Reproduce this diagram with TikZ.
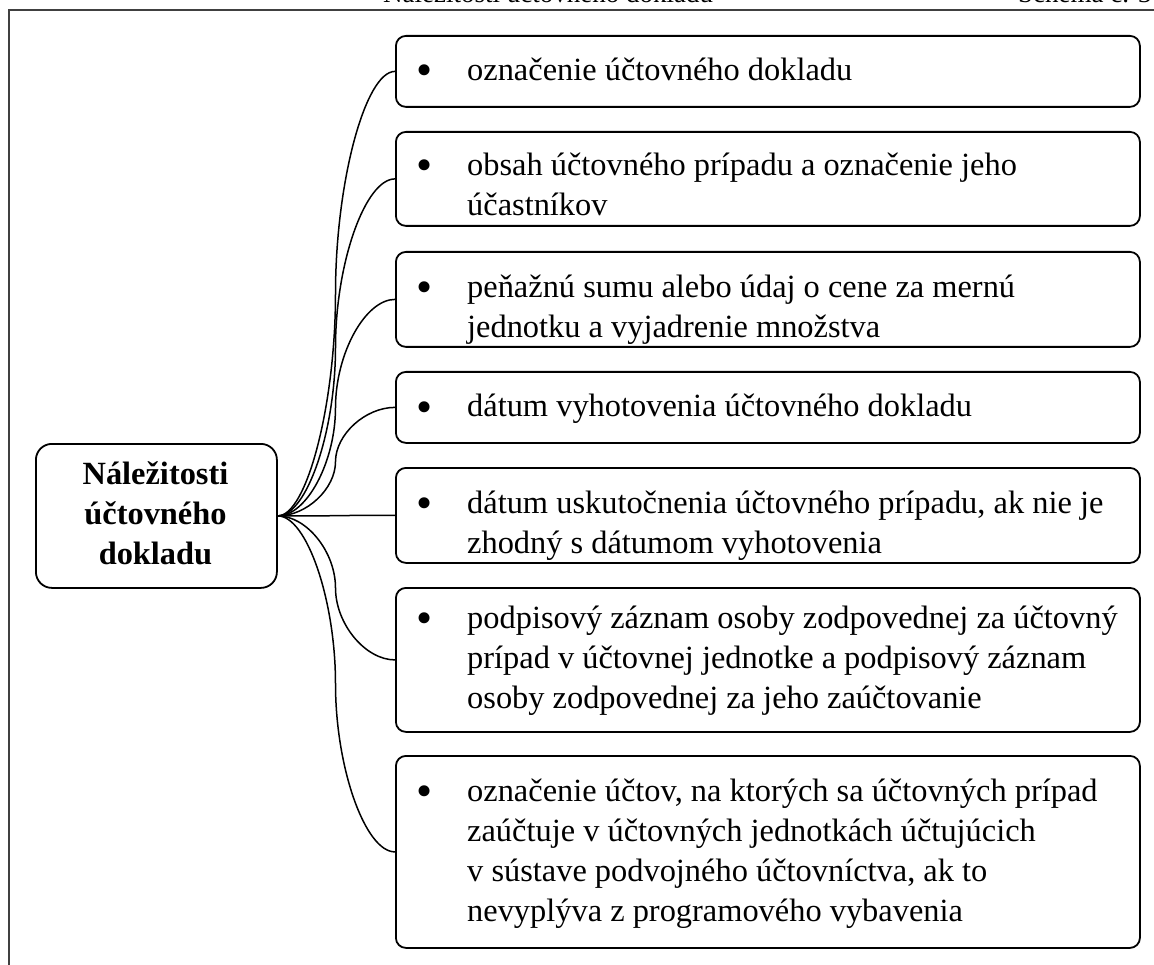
\documentclass[tikz,border=0pt]{standalone}
\usepackage{fontspec}
\setmainfont{Liberation Serif}
\usetikzlibrary{calc}
\begin{document}
\begin{tikzpicture}[x=1pt,y=-1pt,
  box/.style={draw, line width=1.8pt, rounded corners=10pt, inner sep=0pt, anchor=north west},
  rootbox/.style={box, rounded corners=16pt},
  conn/.style={line width=1.5pt},
  txt/.style={inner sep=0pt, anchor=base west, font=\fontsize{32.4}{40}\selectfont},
  bul/.style={inner sep=0pt, anchor=base, font=\fontsize{46}{46}\selectfont},
  ttl/.style={inner sep=0pt, anchor=base, font=\fontsize{32.4}{40}\selectfont\bfseries},
  hdr/.style={inner sep=0pt, anchor=base west, font=\fontsize{27}{30}\selectfont}]
\useasboundingbox (0,0) rectangle (1154,965);
\fill[white] (0,0) rectangle (1154,965);
% header (cut off at the top edge, as in the reference)
\node[hdr] (h1) at (383,3) {Náležitosti účtovného dokladu};
\node[hdr] (h2) at (1018,3) {Schéma č. 3};
% frame
\draw[line width=2pt, black!75] (9,975) -- (9,10) -- (1165,10);
% boxes
\node[rootbox, minimum width=241pt, minimum height=144pt] (root) at (35,443) {};
\node[box, minimum width=744pt, minimum height=71pt]  (b1) at (395,35) {};
\node[box, minimum width=744pt, minimum height=94pt]  (b2) at (395,131) {};
\node[box, minimum width=744pt, minimum height=95pt]  (b3) at (395,251) {};
\node[box, minimum width=744pt, minimum height=71pt]  (b4) at (395,371) {};
\node[box, minimum width=744pt, minimum height=95pt]  (b5) at (395,467) {};
\node[box, minimum width=744pt, minimum height=144pt] (b6) at (395,587) {};
\node[box, minimum width=744pt, minimum height=192pt] (b7) at (395,755) {};
% connectors
\foreach \b in {b1,b2,b3,b4,b5,b6,b7}{
  \draw[conn] let \p1=(root.east), \p2=(\b.west) in
    (\p1) .. controls ({(\x1+335.5pt)/2}, \y1) and (335.5pt, {\y1+(\y2-\y1)/4}) ..
    (335.5pt, {(\y1+\y2)/2}) .. controls (335.5pt, {\y1+3*(\y2-\y1)/4}) and ({(335.5pt+\x2)/2}, \y2) .. (\p2);
}
% title
\node[ttl] (title) at (155.5,484) {\parbox[t]{230pt}{\centering Náležitosti\\účtovného\\dokladu}};
% texts
\newcommand\boxtext[3]{%
  \begin{scope}
    \clip[rounded corners=8pt] ([shift={(3pt,3pt)}]#1.south west) rectangle ([shift={(-3pt,-3pt)}]#1.north east);
    \node[bul] (#1u) at (424.5,#2+5) {•};
    \node[txt] (#1t) at (467,#2) {\parbox[t]{668pt}{#3}};
  \end{scope}}
\boxtext{b1}{81}{označenie účtovného dokladu}
\boxtext{b2}{176}{obsah účtovného prípadu a označenie jeho\\účastníkov}
\boxtext{b3}{298}{peňažnú sumu alebo údaj o cene za mernú\\jednotku a vyjadrenie množstva}
\boxtext{b4}{417}{dátum vyhotovenia účtovného dokladu}
\boxtext{b5}{513}{dátum uskutočnenia účtovného prípadu, ak nie je\\zhodný s dátumom vyhotovenia}
\boxtext{b6}{628}{podpisový záznam osoby zodpovednej za účtovný\\prípad v účtovnej jednotke a podpisový záznam\\osoby zodpovednej za jeho zaúčtovanie}
\boxtext{b7}{801}{označenie účtov, na ktorých sa účtovných prípad\\zaúčtuje v účtovných jednotkách účtujúcich\\v sústave podvojného účtovníctva, ak to\\nevyplýva z programového vybavenia}
\end{tikzpicture}
\end{document}
